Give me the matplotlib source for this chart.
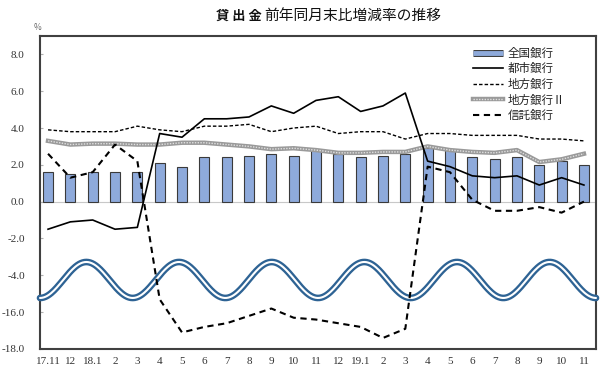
import numpy as np
import matplotlib
matplotlib.use("Agg")
import matplotlib.pyplot as plt
from matplotlib.lines import Line2D
import matplotlib.patheffects as pe

plt.rcParams['font.family'] = ['Noto Sans CJK JP', 'DejaVu Sans']

categories = ["17.11", "12", "18.1", "2", "3", "4", "5", "6", "7", "8", "9", "10", "11",
              "12", "19.1", "2", "3", "4", "5", "6", "7", "8", "9", "10", "11"]
zenkoku = [1.6, 1.5, 1.6, 1.6, 1.6, 2.1, 1.9, 2.4, 2.4, 2.5, 2.6, 2.5, 2.8,
           2.6, 2.4, 2.5, 2.6, 2.9, 2.8, 2.4, 2.3, 2.4, 2.0, 2.2, 2.0]
toshi = [-1.5, -1.1, -1.0, -1.5, -1.4, 3.7, 3.5, 4.5, 4.5, 4.6, 5.2, 4.8, 5.5,
         5.7, 4.9, 5.2, 5.9, 2.2, 1.9, 1.4, 1.3, 1.4, 0.9, 1.3, 0.9]
chiho = [3.9, 3.8, 3.8, 3.8, 4.1, 3.9, 3.8, 4.1, 4.1, 4.2, 3.8, 4.0, 4.1,
         3.7, 3.8, 3.8, 3.4, 3.7, 3.7, 3.6, 3.6, 3.6, 3.4, 3.4, 3.3]
chiho2 = [3.3, 3.1, 3.15, 3.15, 3.1, 3.1, 3.2, 3.2, 3.1, 3.0, 2.85, 2.9, 2.8,
          2.65, 2.65, 2.7, 2.7, 3.0, 2.8, 2.7, 2.65, 2.8, 2.15, 2.3, 2.6]
shintaku = [2.6, 1.3, 1.6, 3.1, 2.2, -15.3, -17.1, -16.8, -16.6, -16.2, -15.8, -16.3, -16.4,
            -16.6, -16.8, -17.4, -16.9, 1.9, 1.6, 0.1, -0.5, -0.5, -0.3, -0.6, 0.0]
yticks = [8, 6, 4, 2, 0, -2, -4, -16, -18]
labels = ["全国銀行", "都市銀行", "地方銀行", "地方銀行Ⅱ", "信託銀行"]

# broken axis: values in [-14, -4] collapse; below -14 shifted up by ~10
EPS = 1e-3


def fwd(v):
    v = np.asarray(v, dtype=float)
    return np.where(v >= -4, v, np.where(v >= -14, -4 + (v + 4) * EPS, v + 10 - 10 * EPS))


def inv(u):
    u = np.asarray(u, dtype=float)
    lo = -4 - 10 * EPS
    return np.where(u >= -4, u, np.where(u >= lo, -4 + (u + 4) / EPS, u - 10 + 10 * EPS))


fig = plt.figure(figsize=(6.0, 3.76), dpi=100)
ax = fig.add_axes([40 / 600, 27 / 376, 556 / 600, 313 / 376])
ax.set_yscale('function', functions=(fwd, inv))

x = np.arange(len(categories))
ax.axhline(0, color='#c8c8c8', lw=0.8, zorder=1)
ax.bar(x, zenkoku, width=0.45, color='#8eaadb', edgecolor='#3a3a3a', lw=0.8, zorder=2)

ax.plot(x, chiho2, color='#9a9a9a', lw=3.2, zorder=3, solid_joinstyle='round')
ax.plot(x, chiho2, color='#e0e0e0', lw=1.0, ls=(0, (1, 1)), zorder=3.1)
ax.plot(x, chiho, color='black', lw=1.0, ls=(0, (2.5, 1.5)), zorder=4)
ax.plot(x, toshi, color='black', lw=1.2, zorder=5)
ax.plot(x, shintaku, color='black', lw=1.5, ls=(0, (3, 2.2)), zorder=6)

# break marker (wave)
t = np.linspace(0, 1, 600)
wy = 0.2205 - 0.0575 * np.cos(2 * np.pi * 6 * t)
ax.plot(t, wy, transform=ax.transAxes, color='#2e6394', lw=4.8, zorder=4.5,
        solid_capstyle='round', clip_on=False)
ax.plot(t, wy, transform=ax.transAxes, color='white', lw=1.5, zorder=4.6,
        solid_capstyle='round', clip_on=False)

ax.set_xlim(-0.36, 24.54)
ax.set_ylim(-18, 9.0)
ax.set_yticks(yticks)
ax.set_yticklabels([f"{v:.1f}" for v in yticks], family='Liberation Serif', fontsize=8)
ax.set_xticks(x)
ax.set_xticklabels(categories, family='Liberation Serif', fontsize=8)
ax.tick_params(axis='y', length=2, direction='in', color='#b0b0b0', pad=11, labelcolor='#333333')
ax.tick_params(axis='x', length=0, pad=6, labelcolor='#333333')
ax.yaxis.set_minor_locator(matplotlib.ticker.NullLocator())
for s in ax.spines.values():
    s.set_color('#404040')
    s.set_linewidth(1.5)

# legend
h_bar = Line2D([], [], color='#8eaadb', lw=3.5, solid_capstyle='butt',
               path_effects=[pe.Stroke(linewidth=5, foreground='#3a3a3a'), pe.Normal()])
h_toshi = Line2D([], [], color='black', lw=1.2)
h_chiho = Line2D([], [], color='black', lw=1.0, ls=(0, (2.5, 1.5)))
h_c2a = Line2D([], [], color='#9a9a9a', lw=3.2)
h_c2b = Line2D([], [], color='#e0e0e0', lw=1.0, ls=(0, (1, 1)))
h_shin = Line2D([], [], color='black', lw=1.5, ls=(0, (3, 2.2)))
leg = ax.legend([h_bar, h_toshi, h_chiho, (h_c2a, h_c2b), h_shin], labels,
                loc='upper left', bbox_to_anchor=(0.77, 0.98), frameon=False,
                fontsize=8.3, handlelength=2.6, handletextpad=0.4, labelspacing=0.22,
                borderaxespad=0)
for tx in leg.get_texts():
    tx.set_color('#222222')

fig.text(216 / 600, 1 - 16 / 376, "貸 出 金", fontsize=9.5, fontweight='bold',
         ha='left', va='center', color='#111111')
fig.text(264 / 600, 1 - 16 / 376, "前年同月末比増減率の推移", fontsize=10.6,
         ha='left', va='center', color='#111111')
fig.text(38 / 600, 1 - 28 / 376, "%", fontsize=6, ha='center', va='center', color='#666666')

fig.savefig("out.png", dpi=100)
